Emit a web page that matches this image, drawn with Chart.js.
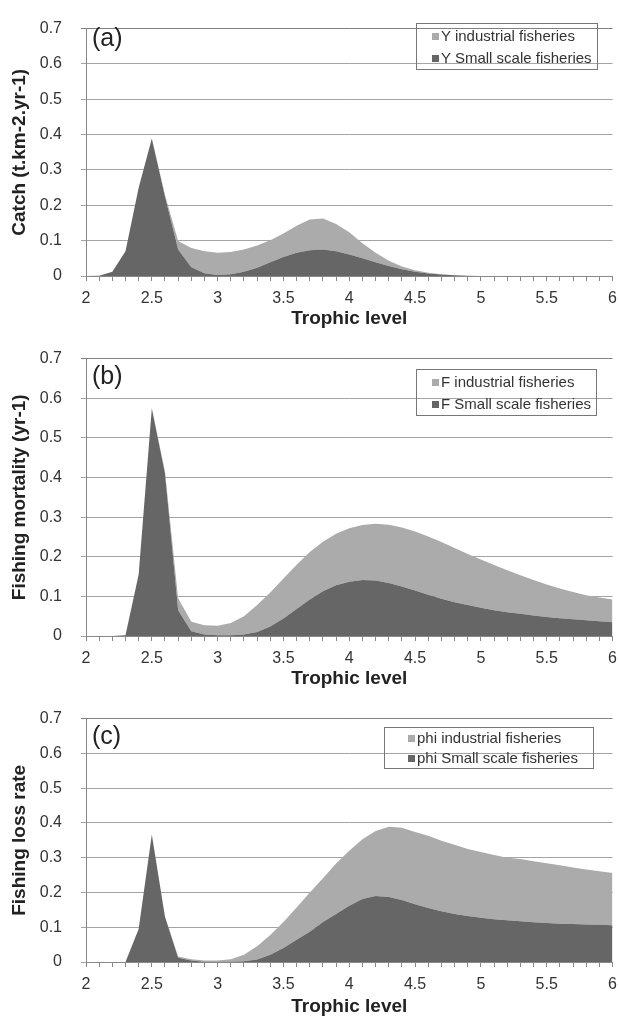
<!DOCTYPE html>
<html>
<head>
<meta charset="utf-8">
<title>Catch, fishing mortality and fishing loss rate by trophic level</title>
<script src="https://cdn.jsdelivr.net/npm/chart.js@4.4.1/dist/chart.umd.min.js"></script>
<style>
    html, body { margin: 0; padding: 0; background: #fff; }
    body { width: 619px; height: 1018px; position: relative; overflow: hidden;
           font-family: "Liberation Sans", Arial, sans-serif; color: #222; }
    /* a little wider than the page so the plot's right edge lands on x=612 */
    .panel { position: absolute; left: 0; width: 625px; }
    .panel canvas { position: absolute; left: 0; top: 0; }
    .tag { position: absolute; left: 92px; font-size: 25px; line-height: 1; color: #222; }
    .legend { position: absolute; border: 1px solid #777; box-sizing: border-box;
              font-size: 15px; color: #333; }
    .legend .row { position: absolute; white-space: nowrap; line-height: 17px; }
    .legend .sw { display: inline-block; width: 7px; height: 7px; margin-right: 2px; vertical-align: 1px; }
</style>
</head>
<body>

<div class="panel" id="panelA" style="top:0;height:330px">
    <canvas id="chartA"></canvas>
    <div class="tag" style="top:25px">(a)</div>
    <div class="legend" style="left:416px;top:23px;width:182px;height:47px">
        <div class="row" style="left:15px;top:3px"><span class="sw" style="background:#ababab"></span>Y industrial fisheries</div>
        <div class="row" style="left:15px;top:25px"><span class="sw" style="background:#666"></span>Y Small scale fisheries</div>
    </div>
</div>

<div class="panel" id="panelB" style="top:330px;height:360px">
    <canvas id="chartB"></canvas>
    <div class="tag" style="top:33px">(b)</div>
    <div class="legend" style="left:416px;top:39px;width:181px;height:47px">
        <div class="row" style="left:15px;top:3px"><span class="sw" style="background:#ababab"></span>F industrial fisheries</div>
        <div class="row" style="left:15px;top:25px"><span class="sw" style="background:#666"></span>F Small scale fisheries</div>
    </div>
</div>

<div class="panel" id="panelC" style="top:690px;height:328px">
    <canvas id="chartC"></canvas>
    <div class="tag" style="top:33px">(c)</div>
    <div class="legend" style="left:384px;top:37px;width:210px;height:42px">
        <div class="row" style="left:23px;top:1px"><span class="sw" style="background:#ababab"></span>phi industrial fisheries</div>
        <div class="row" style="left:23px;top:21px"><span class="sw" style="background:#666"></span>phi Small scale fisheries</div>
    </div>
</div>

<script>
// Trophic level categories (one point every 0.1)
const trophicLevels = [
    2.0, 2.1, 2.2, 2.3, 2.4, 2.5, 2.6, 2.7, 2.8, 2.9,
    3.0, 3.1, 3.2, 3.3, 3.4, 3.5, 3.6, 3.7, 3.8, 3.9,
    4.0, 4.1, 4.2, 4.3, 4.4, 4.5, 4.6, 4.7, 4.8, 4.9,
    5.0, 5.1, 5.2, 5.3, 5.4, 5.5, 5.6, 5.7, 5.8, 5.9,
    6.0
];
const xTickLabels = ['2', '2.5', '3', '3.5', '4', '4.5', '5', '5.5', '6'];
const yTickLabels = ['0', '0.1', '0.2', '0.3', '0.4', '0.5', '0.6', '0.7'];

// (a) Catch
const catchSmall = [
    0, 0.001, 0.012, 0.07, 0.25, 0.389, 0.225, 0.075, 0.025, 0.008,
    0.003, 0.005, 0.012, 0.023, 0.039, 0.054, 0.066, 0.073, 0.075, 0.07,
    0.061, 0.05, 0.039, 0.028, 0.019, 0.012, 0.007, 0.004, 0.002, 0.001,
    0, 0, 0, 0, 0, 0, 0, 0, 0, 0,
    0
];
const catchIndustrial = [
    0, 0, 0, 0, 0, 0, 0.005, 0.024, 0.054, 0.062,
    0.063, 0.063, 0.063, 0.063, 0.062, 0.066, 0.076, 0.087, 0.088, 0.077,
    0.063, 0.043, 0.027, 0.015, 0.008, 0.004, 0.002, 0.001, 0, 0,
    0, 0, 0, 0, 0, 0, 0, 0, 0, 0,
    0
];

// (b) Fishing mortality
const mortSmall = [
    0, 0, 0, 0.002, 0.155, 0.575, 0.41, 0.065, 0.012, 0.004,
    0.002, 0.002, 0.004, 0.01, 0.024, 0.044, 0.068, 0.092, 0.113, 0.128,
    0.137, 0.141, 0.14, 0.134, 0.125, 0.115, 0.104, 0.094, 0.085, 0.078,
    0.071, 0.065, 0.06, 0.056, 0.052, 0.048, 0.045, 0.042, 0.04, 0.037,
    0.035
];
const mortIndustrial = [
    0, 0, 0, 0, 0, 0, 0.005, 0.03, 0.024, 0.023,
    0.024, 0.031, 0.046, 0.068, 0.086, 0.101, 0.112, 0.12, 0.125, 0.13,
    0.135, 0.139, 0.143, 0.147, 0.149, 0.149, 0.147, 0.143, 0.137, 0.129,
    0.122, 0.114, 0.106, 0.097, 0.089, 0.082, 0.075, 0.069, 0.063, 0.06,
    0.057
];

// (c) Fishing loss rate
const lossSmall = [
    0, 0, 0, 0, 0.095, 0.367, 0.13, 0.012, 0.004, 0.001,
    0.001, 0.001, 0.002, 0.007, 0.021, 0.04, 0.064, 0.087, 0.115, 0.138,
    0.162, 0.181, 0.19, 0.187, 0.178, 0.166, 0.155, 0.146, 0.138, 0.132,
    0.127, 0.123, 0.12, 0.117, 0.114, 0.112, 0.11, 0.109, 0.108, 0.107,
    0.106
];
const lossIndustrial = [
    0, 0, 0, 0, 0, 0, 0, 0.004, 0.004, 0.003,
    0.003, 0.007, 0.019, 0.038, 0.057, 0.075, 0.093, 0.113, 0.126, 0.145,
    0.158, 0.172, 0.187, 0.202, 0.208, 0.208, 0.208, 0.203, 0.199, 0.193,
    0.189, 0.185, 0.18, 0.179, 0.176, 0.172, 0.168, 0.163, 0.158, 0.154,
    0.15
];

Chart.defaults.font.family = '"Liberation Sans", Arial, sans-serif';
Chart.defaults.color = '#333';
Chart.defaults.animation = false;

function toPoints(values) {
    return values.map((v, i) => ({ x: trophicLevels[i], y: v }));
}

function makePanel(canvasId, small, industrial, yTitle, padTop, xAxisHeight) {
    const ctx = document.getElementById(canvasId);
    return new Chart(ctx, {
        type: 'line',
        data: {
            datasets: [{
                label: 'Small scale',
                data: toPoints(small),
                backgroundColor: '#666666',
                borderWidth: 0,
                pointRadius: 0,
                tension: 0,
                fill: 'origin'
            }, {
                label: 'Industrial',
                data: toPoints(industrial),
                backgroundColor: '#ababab',
                borderWidth: 0,
                pointRadius: 0,
                tension: 0,
                fill: '-1'
            }]
        },
        options: {
            responsive: true,
            maintainAspectRatio: false,
            events: [],
            layout: { padding: { left: 0, right: 7, top: padTop, bottom: 0 } },
            plugins: {
                legend: { display: false },
                tooltip: { enabled: false }
            },
            scales: {
                x: {
                    type: 'linear',
                    min: 2,
                    max: 6,
                    afterFit: function(scale) { scale.height = xAxisHeight; },
                    border: { display: true, color: '#888' },
                    grid: { drawOnChartArea: false, drawTicks: true, tickLength: 5, color: '#888' },
                    ticks: {
                        stepSize: 0.1,
                        autoSkip: false,
                        maxRotation: 0,
                        padding: 8,
                        font: { size: 16 },
                        callback: function(value) {
                            const k = Math.round((value - 2) * 10);
                            return k % 5 === 0 ? xTickLabels[k / 5] : '';
                        }
                    },
                    title: {
                        display: true,
                        text: 'Trophic level',
                        color: '#222',
                        font: { size: 19, weight: 'bold' },
                        padding: { top: 0, bottom: 0 }
                    }
                },
                y: {
                    stacked: true,
                    min: 0,
                    max: 0.7,
                    afterFit: function(scale) { scale.width = 86; },
                    border: { display: true, color: '#888' },
                    grid: {
                        tickLength: 5,
                        // top line doubles as the plot frame, a bit darker
                        color: function(c) { return c.tick && c.tick.value >= 0.69 ? '#808080' : '#a4a4a4'; }
                    },
                    ticks: {
                        stepSize: 0.1,
                        padding: 19,
                        font: { size: 16 },
                        callback: function(value) {
                            return yTickLabels[Math.round(value * 10)];
                        }
                    },
                    title: {
                        display: true,
                        text: yTitle,
                        color: '#222',
                        font: { size: 19, weight: 'bold' },
                        padding: { top: 8, bottom: 0 }
                    }
                }
            }
        }
    });
}

makePanel('chartA', catchSmall, catchIndustrial, 'Catch (t.km-2.yr-1)', 16, 54);
makePanel('chartB', mortSmall, mortIndustrial, 'Fishing mortality (yr-1)', 24, 54);
makePanel('chartC', lossSmall, lossIndustrial, 'Fishing loss rate', 25, 56);
</script>
</body>
</html>
